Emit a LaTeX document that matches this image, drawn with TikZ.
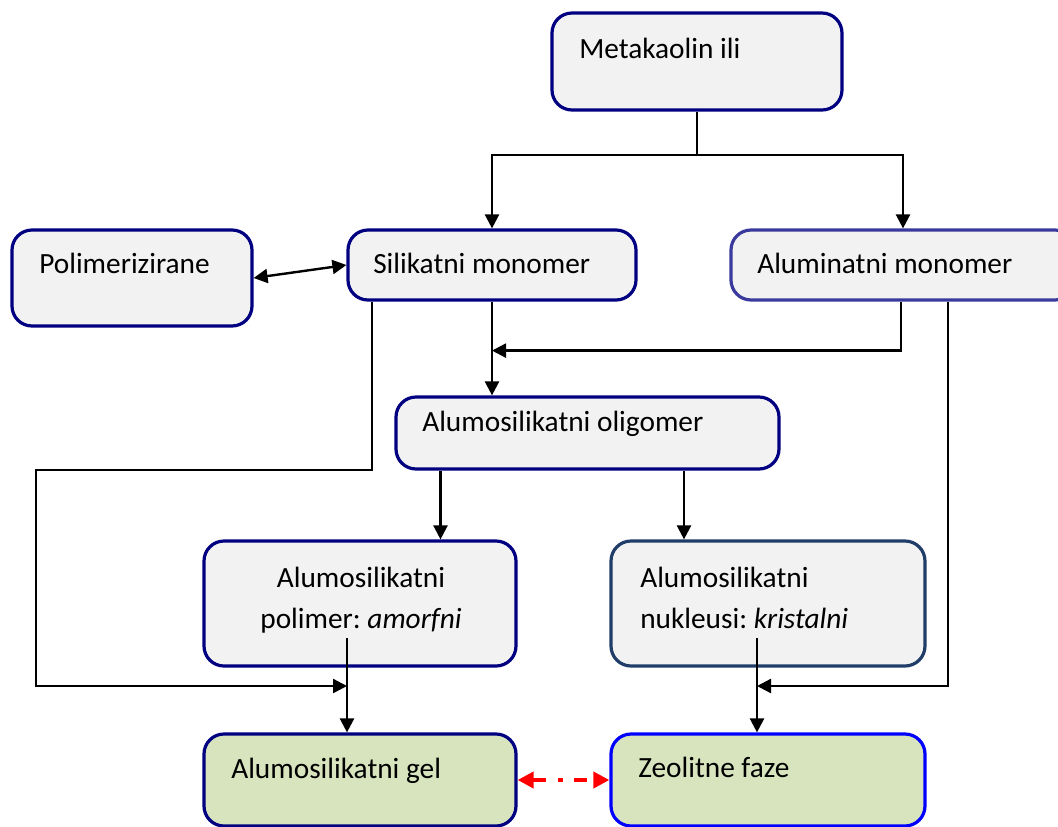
\documentclass[tikz,border=0pt]{standalone}
\usepackage{fontspec}
\setmainfont{Carlito}
\usetikzlibrary{arrows.meta,fit}
\definecolor{navyb}{HTML}{000080}
\definecolor{indigob}{HTML}{3A3A9E}
\definecolor{slateb}{HTML}{1F3D68}
\definecolor{blueb}{HTML}{0000FF}
\definecolor{grayfill}{HTML}{F2F2F2}
\definecolor{greenfill}{HTML}{D7E4BD}
\definecolor{redline}{HTML}{FF0000}
\tikzset{
  box/.style={draw=navyb, fill=grayfill, line width=2.4pt, rounded corners=15pt, inner sep=0pt},
  txt/.style={anchor=base west, inner sep=0pt, font=\fontsize{22}{26}\selectfont},
  ctxt/.style={anchor=base, inner sep=0pt, font=\fontsize{22}{26}\selectfont},
  conn/.style={line width=1.8pt, black},
  arr/.style={conn, -{Triangle[length=10.5pt,width=10.5pt]}},
  darr/.style={conn, {Triangle[length=10.5pt,width=10.5pt]}-{Triangle[length=10.5pt,width=10.5pt]}},
  redarr/.style={redline, line width=2.8pt, {Triangle[length=12pt,width=12pt]}-{Triangle[length=12pt,width=12pt]},
    dash pattern=on 9.75pt off 9pt on 3.75pt off 8.25pt}
}
\begin{document}
\begin{tikzpicture}[x=0.75pt,y=-0.75pt]
\useasboundingbox (0,0) rectangle (1058,826);
\begin{scope}
\clip (0,0) rectangle (1058,826);
\node[box, fit={(552,13) (842,110)}] (meta) {};
\node[box, fit={(12,230) (252,326)}] (pol) {};
\node[box, fit={(348,230) (636,300)}] (sil) {};
\node[box, draw=indigob, fit={(731,230) (1075,300)}] (al) {};
\node[box, fit={(396,397) (779,469)}] (olig) {};
\node[box, fit={(204,541) (516,666)}] (poly) {};
\node[box, draw=slateb, fit={(611,541) (925,666)}] (nuk) {};
\node[box, fill=greenfill, fit={(204,734) (516,826)}] (gel) {};
\node[box, draw=blueb, fill=greenfill, fit={(611,734) (925,826)}] (zeo) {};
\end{scope}

% texts
\node[txt] (tmeta) at (579,58) {Metakaolin ili};
\node[txt] (tpol) at (39,273) {Polimerizirane};
\node[txt] (tsil) at (373,273) {Silikatni monomer};
\node[txt] (tal) at (757,273) {Aluminatni monomer};
\node[txt] (tolig) at (422,431) {Alumosilikatni oligomer};
\node[ctxt] (tpoly1) at (361,587) {Alumosilikatni};
\node[ctxt] (tpoly2) at (361,628) {polimer:~\textit{amorfni}};
\node[txt] (tnuk1) at (640,587) {Alumosilikatni};
\node[txt] (tnuk2) at (640,628) {nukleusi:~\textit{kristalni}};
\node[txt] (tgel) at (231,778) {Alumosilikatni gel};
\node[txt] (tzeo) at (638,777) {Zeolitne faze};

% connectors
\path (meta.south |- 0,155) coordinate (split);
\draw[conn] (meta.south) -- (split);
\draw[arr] (split) -| (sil.north);
\draw[arr] (split) -| (al.north);
\draw[darr] (pol.east) -- (sil.west);

\draw[arr] (sil.south) -- (sil.south |- olig.north);
\path (sil.south) ++(0,49) coordinate (m1);
\path (al.south) ++(-2,0) coordinate (a1);
\draw[arr] (a1) |- (m1);

\path (olig.south) ++(-147,0) coordinate (o1);
\path (olig.south) ++(96.5,0) coordinate (o2);
\draw[arr] (o1) -- (o1 |- poly.north);
\draw[arr] (o2) -- (o2 |- nuk.north);

\coordinate (pk) at (347,638);
\coordinate (nk) at (757,638);
\draw[arr] (pk) -- (pk |- gel.north);
\draw[arr] (nk) -- (nk |- zeo.north);

\path (sil.south) ++(-120,0) coordinate (s1);
\coordinate (l1) at (36,470);
\coordinate (l2) at (36,686);
\draw[arr] (s1) |- (l1) -- (l2) -- (pk |- l2);

\path (al.south) ++(45,0) coordinate (a2);
\draw[arr] (a2) |- (nk |- l2);

\draw[redarr] (gel.east) -- (zeo.west);
\end{tikzpicture}
\end{document}
